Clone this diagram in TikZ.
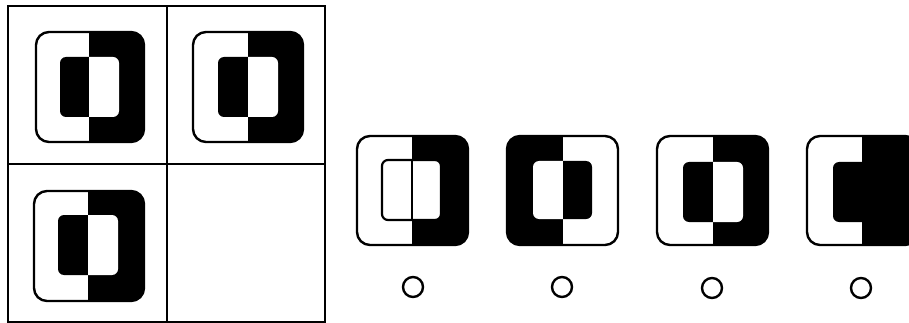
\documentclass[tikz,border=0pt]{standalone}
\begin{document}
\begin{tikzpicture}[x=1pt,y=-1pt,
  gridline/.style={line width=2.2pt,draw=black},
  outerline/.style={line width=2.4pt,draw=black,rounded corners=13pt},
  innerline/.style={line width=2.2pt,draw=black,rounded corners=6pt},
  choice/.style={line width=2.4pt,draw=black}]
\useasboundingbox (0,0) rectangle (909,323);
\clip (0,0) rectangle (909,323);
% fig: x1 y1 x2 y2 xs a1 b1 a2 b2 ; colours via \ringL \ringR \inL \inR
\newcommand\puzzlefig[9]{%
  \begin{scope}
    \clip (#1-5,#2-5) rectangle (#5,#4+5);
    \fill[\ringL,rounded corners=13pt] (#1,#2) rectangle (#3,#4);
    \fill[\inL,rounded corners=6pt] (#6,#7) rectangle (#8,#9);
  \end{scope}
  \begin{scope}
    \clip (#5,#2-5) rectangle (#3+5,#4+5);
    \fill[\ringR,rounded corners=13pt] (#1,#2) rectangle (#3,#4);
    \fill[\inR,rounded corners=6pt] (#6,#7) rectangle (#8,#9);
  \end{scope}
  \draw[outerline] (#1,#2) rectangle (#3,#4);
}
% grid
\draw[gridline] (8,6) rectangle (325,322);
\draw[gridline] (167,6) -- (167,322);
\draw[gridline] (8,164) -- (325,164);
% matrix figures
\def\ringL{white}\def\ringR{black}\def\inL{black}\def\inR{white}
\puzzlefig{36}{32}{144}{142}{89}{60}{57}{119}{117}
\puzzlefig{193}{32}{303}{142}{248}{218}{57}{278}{117}
\puzzlefig{34}{191}{144}{301}{88}{58}{215}{118}{275}
% option A
\def\ringL{white}\def\ringR{black}\def\inL{white}\def\inR{white}
\puzzlefig{357}{136}{468}{245}{412}{382}{160}{441}{220}
\draw[innerline] (382,160) rectangle (441,220);
\draw[line width=2pt] (412,160) -- (412,220);
% option B
\def\ringL{black}\def\ringR{white}\def\inL{white}\def\inR{black}
\puzzlefig{507}{136}{618}{245}{563}{533}{161}{592}{219}
% option C
\def\ringL{white}\def\ringR{black}\def\inL{black}\def\inR{white}
\puzzlefig{657}{136}{768}{245}{713}{683}{162}{743}{222}
% option D
\def\ringL{white}\def\ringR{black}\def\inL{black}\def\inR{black}
\puzzlefig{807}{136}{918}{245}{862}{833}{162}{893}{222}
% answer circles
\draw[choice] (413,287) circle (10);
\draw[choice] (562,287) circle (10);
\draw[choice] (712,288) circle (10);
\draw[choice] (861,288) circle (10);
\end{tikzpicture}
\end{document}
